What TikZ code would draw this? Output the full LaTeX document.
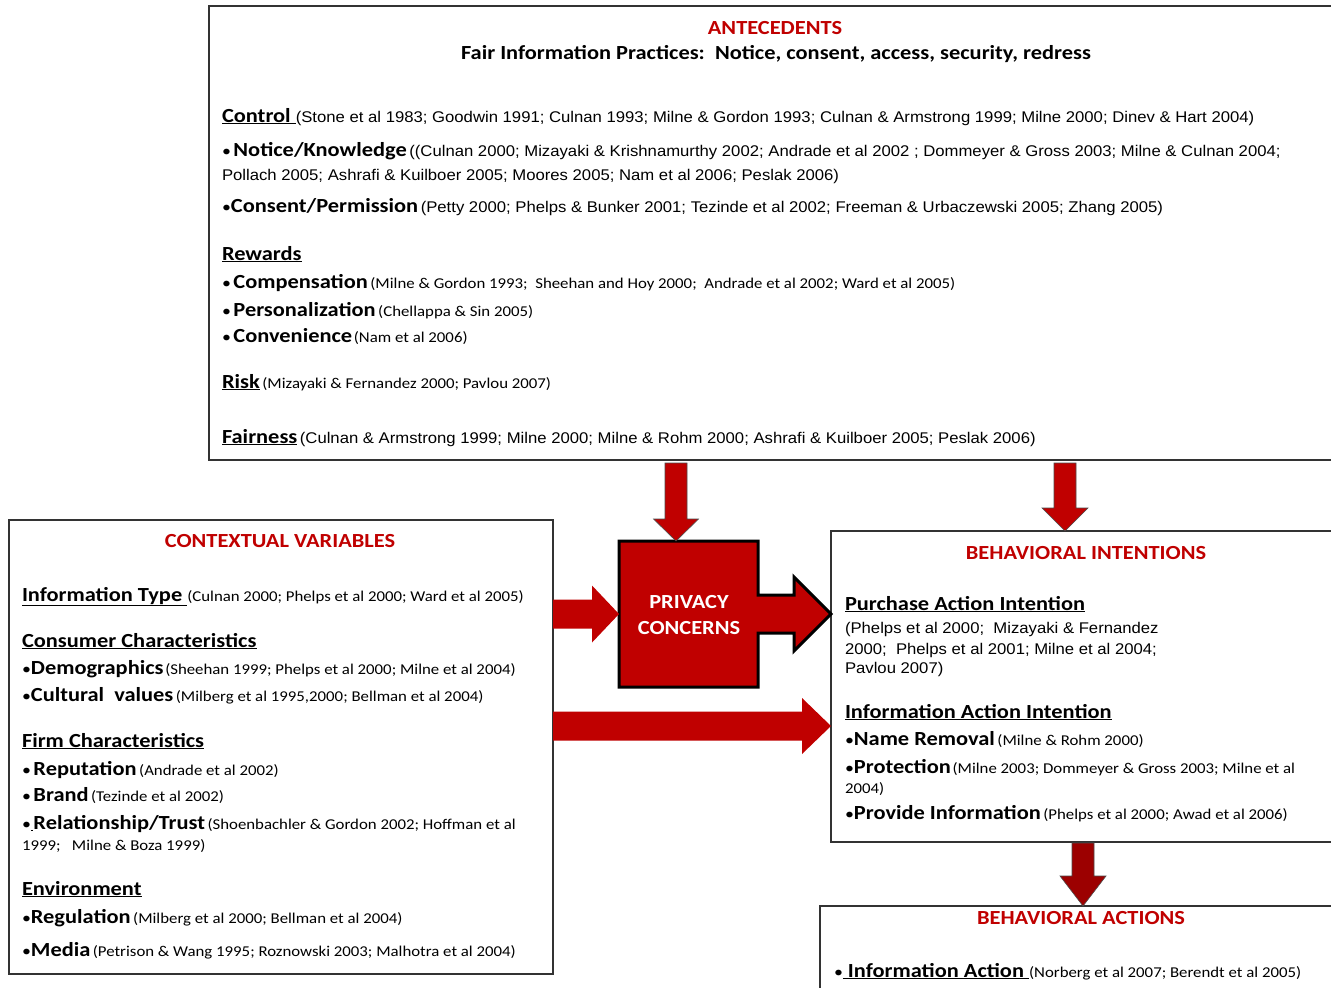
\documentclass[tikz,border=0pt]{standalone}
\usepackage{fontspec}
\setmainfont{Carlito}[FakeStretch=1.12]
\newfontfamily\arialf{Liberation Sans}[FakeStretch=1.077]
\usetikzlibrary{calc}

\definecolor{hdred}{HTML}{C00000}
\definecolor{arrred}{HTML}{C00000}
\definecolor{deeparr}{HTML}{9C0000}

% text helpers
\newcommand{\refsC}{\fontsize{15}{18}\selectfont}
\newcommand{\refsA}{\arialf\fontsize{15.5}{18}\selectfont}
\newcommand{\bul}{{\mdseries\fontsize{16}{18}\selectfont •}}
\newcommand{\tm}[1]{{\bfseries\fontsize{20}{24}\selectfont #1}}
\newcommand{\tu}[1]{{\bfseries\fontsize{20}{24}\selectfont\underline{#1}}}

% vertical block arrow: start, tip, shaft half width, head half width, head length
\newcommand{\vblock}[6][barrow]{%
  \path[#1] let \p1=(#2), \p2=(#3) in
    (\x1-#4,\y1) -- (\x1+#4,\y1) -- (\x1+#4,\y2+#6) -- (\x1+#5,\y2+#6) --
    (\x2,\y2) -- (\x1-#5,\y2+#6) -- (\x1-#4,\y2+#6) -- cycle;}
% horizontal block arrow (pointing right)
\newcommand{\hblock}[6][barrow]{%
  \path[#1] let \p1=(#2), \p2=(#3) in
    (\x1,\y1+#4) -- (\x2-#6,\y1+#4) -- (\x2-#6,\y1+#5) -- (\x2,\y2) --
    (\x2-#6,\y1-#5) -- (\x2-#6,\y1-#4) -- (\x1,\y1-#4) -- cycle;}

\tikzset{
  every node/.style={inner sep=0pt, outer sep=0pt},
  txt/.style={anchor=base west},
  hd/.style={anchor=base, text=hdred, font=\bfseries\fontsize{20}{24}\selectfont},
  panel/.style={draw=black!80, line width=1.2pt, anchor=north west},
  barrow/.style={fill=arrred, draw=black!70, line width=0.6pt},
  flatarrow/.style={fill=arrred},
  darkarrow/.style={fill=deeparr, draw=black!70, line width=0.6pt},
  pcshape/.style={fill=arrred, draw=black, line width=3pt, line join=miter},
}

\begin{document}
\begin{tikzpicture}[x=1pt, y=-1pt]
\useasboundingbox (0,0) rectangle (1331,988);
\clip (0,0) rectangle (1331,988);
\fill[white] (0,0) rectangle (1331,988);

% ---------- panels ----------
\node[panel, minimum width=1150pt, minimum height=454pt] (ante) at (209,6) {};
\node[panel, minimum width=544pt, minimum height=454pt] (ctx) at (9,520) {};
\node[panel, minimum width=520pt, minimum height=311pt] (bi) at (831,531) {};
\node[panel, minimum width=530pt, minimum height=120pt] (ba) at (820,906) {};
\node[anchor=north west, minimum width=139pt, minimum height=146pt] (pc) at (619,541) {};

% ---------- privacy concerns callout ----------
\coordinate (pctip) at (pc.east -| bi.west);
\path[pcshape] let \p1=(pc.east), \p2=(pctip) in
  (pc.north west) -- (pc.north east) -- (\x1,\y1+19pt) -- (\x2-37pt,\y1+19pt) --
  (\x2-37pt,\y1+37pt) -- (\x2,\y2) -- (\x2-37pt,\y1-37pt) -- (\x2-37pt,\y1-19pt) --
  (\x1,\y1-19pt) -- (pc.south east) -- (pc.south west) -- cycle;
\node[align=center, text=white, font=\bfseries\fontsize{20}{26}\selectfont] (pclabel) at (689,615) {PRIVACY\\CONCERNS};

% ---------- block arrows ----------
\coordinate (a1) at (676,463);
\vblock{a1}{a1 |- pc.north}{11pt}{22.5pt}{22pt}
\coordinate (a2) at (1065,463);
\vblock{a2}{a2 |- bi.north}{11pt}{23pt}{23pt}
\coordinate (a3) at (ctx.east |- pc.west);
\hblock[flatarrow]{a3}{pc.west}{14.5pt}{28.5pt}{27pt}
\coordinate (a4) at (553,726);
\hblock[flatarrow]{a4}{a4 -| bi.west}{14.5pt}{28pt}{29pt}
\coordinate (a5) at (1083,843);
\vblock[darkarrow]{a5}{a5 |- ba.north}{11pt}{23pt}{30pt}

% ---------- antecedents ----------
\node[hd] (anteH) at (775,34) {ANTECEDENTS};
\node[anchor=base, font=\bfseries\fontsize{20}{24}\selectfont] (fip) at (776,59) {Fair Information Practices:\ \ Notice, consent, access, security, redress};
\node[txt] (ctrl) at (222,122) {\tu{Control\ }\refsA(Stone et al 1983; Goodwin 1991; Culnan 1993; Milne \& Gordon 1993; Culnan \& Armstrong 1999; Milne 2000; Dinev \& Hart 2004)};
\node[txt] (notice) at (222,156) {\bul\ \tm{Notice/Knowledge} \refsA((Culnan 2000; Mizayaki \& Krishnamurthy 2002; Andrade et al 2002 ; Dommeyer \& Gross 2003; Milne \& Culnan 2004;};
\node[txt] (notice2) at (222,180) {\refsA Pollach 2005; Ashrafi \& Kuilboer 2005; Moores 2005; Nam et al 2006; Peslak 2006)};
\node[txt] (consent) at (222,212) {\bul\tm{Consent/Permission} \refsA(Petty 2000; Phelps \& Bunker 2001; Tezinde et al 2002; Freeman \& Urbaczewski 2005; Zhang 2005)};
\node[txt] (rew) at (222,260) {\tu{Rewards}};
\node[txt] (comp) at (222,288) {\bul\ \tm{Compensation} \refsC(Milne \& Gordon 1993;\ \ Sheehan and Hoy 2000;\ \ Andrade et al 2002; Ward et al 2005)};
\node[txt] (pers) at (222,316) {\bul\ \tm{Personalization} \refsC(Chellappa \& Sin 2005)};
\node[txt] (conv) at (222,342) {\bul\ \tm{Convenience}\,\refsC(Nam et al 2006)};
\node[txt] (risk) at (222,388) {\tu{Risk} \refsC(Mizayaki \& Fernandez 2000; Pavlou 2007)};
\node[txt] (fair) at (222,443) {\tu{Fairness} \refsA(Culnan \& Armstrong 1999; Milne 2000; Milne \& Rohm 2000; Ashrafi \& Kuilboer 2005; Peslak 2006)};

% ---------- contextual variables ----------
\node[hd] (ctxH) at (280,547) {CONTEXTUAL VARIABLES};
\node[txt] (itype) at (22,601) {\tu{Information Type\ }\refsC(Culnan 2000; Phelps et al 2000; Ward et al 2005)};
\node[txt] (cons) at (22,647) {\tu{Consumer Characteristics}};
\node[txt] (demo) at (22,674) {\bul\tm{Demographics}\,\refsC(Sheehan 1999; Phelps et al 2000; Milne et al 2004)};
\node[txt] (cult) at (22,701) {\bul\tm{Cultural\ \ values} \refsC(Milberg et al 1995,2000; Bellman et al 2004)};
\node[txt] (firm) at (22,747) {\tu{Firm Characteristics}};
\node[txt] (rep) at (22,775) {\bul\ \tm{Reputation} \refsC(Andrade et al 2002)};
\node[txt] (brand) at (22,801) {\bul\ \tm{Brand} \refsC(Tezinde et al 2002)};
\node[txt] (rel) at (22,829) {\bul\underline{\ }\tm{Relationship/Trust} \refsC(Shoenbachler \& Gordon 2002; Hoffman et al};
\node[txt] (rel2) at (22,850) {\refsC 1999;\ \ \ Milne \& Boza 1999)};
\node[txt] (env) at (22,895) {\tu{Environment}};
\node[txt] (reg) at (22,923) {\bul\tm{Regulation} \refsC(Milberg et al 2000; Bellman et al 2004)};
\node[txt] (media) at (22,956) {\bul\tm{Media} \refsC(Petrison \& Wang 1995; Roznowski 2003; Malhotra et al 2004)};

% ---------- behavioral intentions ----------
\node[hd] (biH) at (1086,559) {BEHAVIORAL INTENTIONS};
\node[txt] (pai) at (845,610) {\tu{Purchase Action Intention}};
\node[txt] (pai1) at (845,633) {\refsA(Phelps et al 2000;\ \ Mizayaki \& Fernandez};
\node[txt] (pai2) at (845,654) {\refsA 2000;\ \ Phelps et al 2001; Milne et al 2004;};
\node[txt] (pai3) at (845,673) {\refsA Pavlou 2007)};
\node[txt] (iai) at (845,718) {\tu{Information Action Intention}};
\node[txt] (nr) at (845,745) {\bul\tm{Name Removal} \refsC(Milne \& Rohm 2000)};
\node[txt] (prot) at (845,773) {\bul\tm{Protection}\,\refsC(Milne 2003; Dommeyer \& Gross 2003; Milne et al};
\node[txt] (prot2) at (845,793) {\refsC 2004)};
\node[txt] (prov) at (845,819) {\bul\tm{Provide Information} \refsC(Phelps et al 2000; Awad et al 2006)};

% ---------- behavioral actions ----------
\node[hd] (baH) at (1081,924) {BEHAVIORAL ACTIONS};
\node[txt] (ia) at (834,977) {\bul\tm{\underline{ Information Action }}\refsC(Norberg et al 2007; Berendt et al 2005)};
\end{tikzpicture}
\end{document}
